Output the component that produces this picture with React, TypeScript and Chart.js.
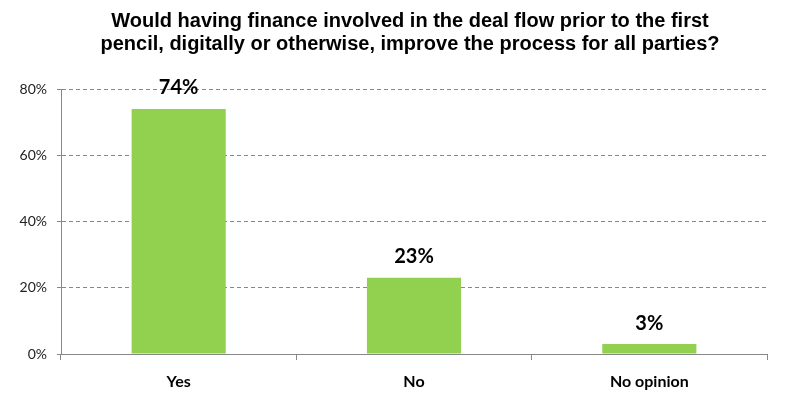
import React, { useEffect, useRef } from "react";
import { Chart, registerables } from "chart.js";

Chart.register(...registerables);

const titleLines = [
  "Would having finance involved in the deal flow prior to the first",
  "pencil, digitally or otherwise, improve the process for all parties?",
];
const categories = ["Yes", "No", "No opinion"];
const values = [74, 23, 3];
const yTicks = [0, 20, 40, 60, 80];

const titlePlugin = {
  id: "customTitle",
  afterDraw(chart: any) {
    const ctx = chart.ctx;
    ctx.save();
    ctx.fillStyle = "#000";
    ctx.font = "bold 20px 'Liberation Sans', Arial, sans-serif";
    ctx.textAlign = "center";
    ctx.textBaseline = "alphabetic";
    titleLines.forEach((l, i) => ctx.fillText(l, 410, 27 + i * 23));
    ctx.restore();
  },
};

const labelPlugin = {
  id: "dataLabels",
  afterDatasetsDraw(chart: any) {
    const ctx = chart.ctx;
    const meta = chart.getDatasetMeta(0);
    ctx.save();
    ctx.fillStyle = "#000";
    ctx.font = "bold 20px Lato, 'Open Sans', sans-serif";
    ctx.textAlign = "center";
    ctx.textBaseline = "middle";
    meta.data.forEach((bar: any, i: number) => {
      ctx.fillText(values[i] + "%", bar.x, bar.y - 21);
    });
    ctx.restore();
  },
};

export default function App() {
  const ref = useRef<HTMLCanvasElement>(null);
  useEffect(() => {
    if (!ref.current) return;
    const chart = new Chart(ref.current, {
      type: "bar",
      data: {
        labels: categories,
        datasets: [
          {
            data: values,
            backgroundColor: "#92D050",
            categoryPercentage: 1,
            barPercentage: 0.4,
          },
        ],
      },
      plugins: [titlePlugin, labelPlugin],
      options: {
        responsive: false,
        animation: false,
        layout: { padding: { top: 89, right: 43, left: 0, bottom: 0 } },
        plugins: { legend: { display: false }, tooltip: { enabled: false }, title: { display: false } },
        scales: {
          x: {
            grid: {
              offset: true,
              drawOnChartArea: false,
              drawTicks: true,
              tickLength: 6,
              color: "#888",
            },
            border: { color: "#888", width: 1 },
            ticks: {
              color: "#000",
              padding: 12,
              font: { family: "Lato, 'Open Sans', sans-serif", size: 16, weight: "bold" },
            },
            afterFit(scale: any) {
              scale.height = 44;
            },
          },
          y: {
            min: 0,
            max: 80,
            afterBuildTicks(scale: any) {
              scale.ticks = yTicks.map((v) => ({ value: v }));
            },
            grid: { color: "#888", tickLength: 4, tickColor: "#888", tickBorderDash: [] },
            border: { color: "#888", width: 1, dash: [4, 3] },
            ticks: {
              color: "#222",
              padding: 10,
              font: { family: "Lato, 'Open Sans', sans-serif", size: 14 },
              callback: (v: any) => v + "%",
            },
            afterFit(scale: any) {
              scale.width = 61;
            },
          },
        },
      },
    });
    return () => chart.destroy();
  }, []);
  return (
    <div style={{ position: "fixed", left: 0, top: 0, width: 810, height: 398, background: "#fff" }}>
      <canvas ref={ref} width={810} height={398} style={{ width: 810, height: 398 }} />
    </div>
  );
}
